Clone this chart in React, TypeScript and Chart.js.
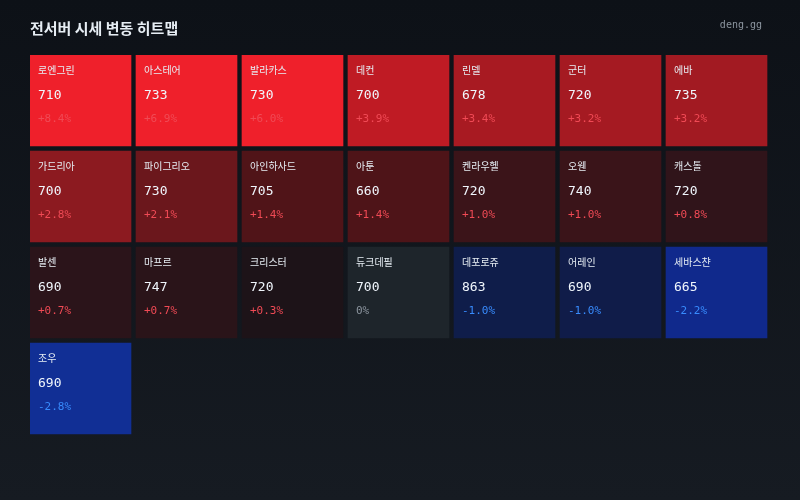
import React, { useEffect, useRef } from "react";
import { Chart, registerables } from "chart.js";

Chart.register(...registerables);

const servers = [
  "로엔그린", "아스테어", "발라카스", "데컨", "린델", "군터", "에바",
  "가드리아", "파이그리오", "아인하사드", "아툰", "켄라우헬", "오웬", "캐스톨",
  "발센", "마프르", "크리스터", "듀크데필", "데포로쥬", "어레인", "세바스챤",
  "조우",
];
const prices = [
  710, 733, 730, 700, 678, 720, 735,
  700, 730, 705, 660, 720, 740, 720,
  690, 747, 720, 700, 863, 690, 665,
  690,
];
const changes = [
  8.4, 6.9, 6.0, 3.9, 3.4, 3.2, 3.2,
  2.8, 2.1, 1.4, 1.4, 1.0, 1.0, 0.8,
  0.7, 0.7, 0.3, 0, -1.0, -1.0, -2.2,
  -2.8,
];
const tileColors = [
  "#ef202b", "#ef202b", "#ef202b", "#bf1b24", "#a81a22", "#a51a22", "#a21a22",
  "#8c1a20", "#6b171c", "#501418", "#4e1418", "#3b1419", "#3a1419", "#30141a",
  "#2b141a", "#2a1419", "#1d1318", "#1e252b", "#0f1d4a", "#101c49", "#10298c",
  "#112f95",
];

const COLS = 7;
const ROWS = 4;
const fillRatioX = 101 / 106;
const fillRatioY = 91 / 96;

function fmtChange(v: number) {
  if (v === 0) return "0%";
  return (v > 0 ? "+" : "") + v.toFixed(1) + "%";
}

export default function App() {
  const ref = useRef<HTMLCanvasElement | null>(null);
  useEffect(() => {
    if (!ref.current) return;
    const bgPlugin = {
      id: "bgPlugin",
      beforeDraw(chart: any) {
        const { ctx, width, height } = chart;
        ctx.save();
        const g = ctx.createLinearGradient(0, 0, 0, height);
        g.addColorStop(0, "#0d1117");
        g.addColorStop(1, "#161b22");
        ctx.fillStyle = g;
        ctx.fillRect(0, 0, width, height);
        ctx.fillStyle = "#e6edf3";
        ctx.font = "bold 15px 'Noto Sans CJK KR'";
        ctx.textBaseline = "middle";
        ctx.textAlign = "left";
        ctx.fillText("전서버 시세 변동 히트맵", 30, 28);
        ctx.fillStyle = "#8b949e";
        ctx.font = "10px 'DejaVu Sans Mono'";
        ctx.textAlign = "right";
        ctx.fillText("deng.gg", 762, 25);
        ctx.restore();
      },
    };
    const labelPlugin = {
      id: "labelPlugin",
      afterDatasetsDraw(chart: any) {
        const { ctx } = chart;
        const meta = chart.getDatasetMeta(0);
        ctx.save();
        ctx.textBaseline = "middle";
        ctx.textAlign = "left";
        meta.data.forEach((el: any, i: number) => {
          const left = el.x - el.width / 2;
          const top = Math.min(el.y, el.base);
          const x = left + 8;
          ctx.fillStyle = "#e6edf3";
          ctx.font = "normal 10px 'Noto Sans CJK KR'";
          ctx.fillText(servers[i], x, top + 15);
          ctx.fillStyle = "#f0f6fc";
          ctx.font = "13px 'DejaVu Sans Mono'";
          ctx.fillText(String(prices[i]), x, top + 41);
          const c = changes[i];
          ctx.fillStyle = c > 0 ? "#f04a55" : c < 0 ? "#388bfd" : "#8b949e";
          ctx.font = "11px 'DejaVu Sans Mono'";
          ctx.fillText(fmtChange(c), x, top + 64);
        });
        ctx.restore();
      },
    };
    const chart = new Chart(ref.current, {
      type: "bar",
      data: {
        datasets: [
          {
            data: servers.map((_, i) => ({
              x: (i % COLS) + fillRatioX / 2,
              y: [Math.floor(i / COLS), Math.floor(i / COLS) + fillRatioY],
            })) as any,
            backgroundColor: tileColors,
            borderWidth: 0,
            barThickness: 101,
          },
        ],
      },
      options: {
        responsive: false,
        animation: false,
        layout: { padding: { left: 30, right: 28, top: 55, bottom: 61 } },
        scales: {
          x: { type: "linear", min: 0, max: COLS, display: false, offset: false, grid: { offset: false } },
          y: { type: "linear", min: 0, max: ROWS, reverse: true, display: false },
        },
        plugins: {
          legend: { display: false },
          tooltip: { enabled: false },
          title: { display: false },
        },
      },
      plugins: [bgPlugin, labelPlugin],
    });
    return () => chart.destroy();
  }, []);
  return (
    <div style={{ position: "fixed", left: 0, top: 0, width: 800, height: 500 }}>
      <canvas ref={ref} width={800} height={500} style={{ display: "block" }} />
    </div>
  );
}
